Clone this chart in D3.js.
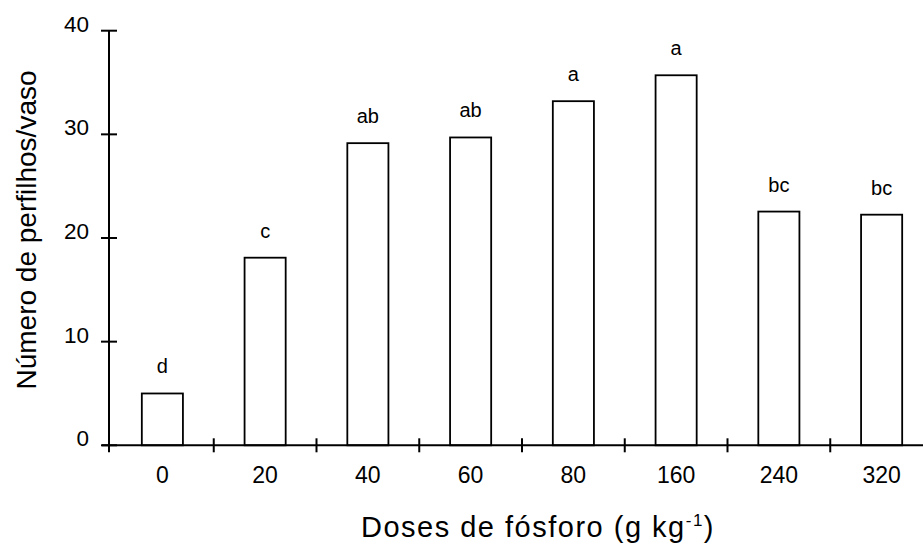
<!DOCTYPE html>
<html>
<head>
<meta charset="utf-8">
<script src="https://cdn.jsdelivr.net/npm/d3@7"></script>
<style>
  html, body { margin: 0; padding: 0; background: #fff; }
  svg { display: block; font-family: "Liberation Sans", Arial, sans-serif; }
</style>
</head>
<body>
<svg id="chart" width="923" height="544"></svg>
<script>
// Phosphorus doses (g kg-1) and tillers per pot
const doses = ["0", "20", "40", "60", "80", "160", "240", "320"];
const tillers = [5.0, 18.1, 29.15, 29.7, 33.2, 35.7, 22.55, 22.25];
const groups = ["d", "c", "ab", "ab", "a", "a", "bc", "bc"];
const yTicks = [0, 10, 20, 30, 40];

const svg = d3.select("#chart");

const x = d3.scaleBand()
  .domain(doses)
  .range([111, 933])
  .paddingInner(0.6)
  .paddingOuter(0.3);

const y = d3.scaleLinear().domain([0, 40]).range([445.3, 30.7]);

const axisX = 109;
const ink = "#000";

// bars
svg.append("g")
  .selectAll("rect")
  .data(doses)
  .join("rect")
  .attr("x", d => x(d))
  .attr("y", (d, i) => y(tillers[i]))
  .attr("width", x.bandwidth())
  .attr("height", (d, i) => y(0) - y(tillers[i]))
  .attr("fill", "#fff")
  .attr("stroke", ink)
  .attr("stroke-width", 1.8);

// significance letters above bars
svg.append("g")
  .selectAll("text")
  .data(doses)
  .join("text")
  .attr("x", d => x(d) + x.bandwidth() / 2)
  .attr("y", (d, i) => y(tillers[i]) - 20)
  .attr("text-anchor", "middle")
  .attr("font-size", 20)
  .attr("fill", ink)
  .text((d, i) => groups[i]);

// y axis line with crossing ticks
const gy = svg.append("g");
gy.append("line")
  .attr("x1", axisX).attr("x2", axisX)
  .attr("y1", y(40)).attr("y2", y(0) + 7)
  .attr("stroke", ink).attr("stroke-width", 2);
gy.selectAll("line.tick")
  .data(yTicks)
  .join("line")
  .attr("class", "tick")
  .attr("x1", axisX - 8).attr("x2", axisX + 8)
  .attr("y1", d => y(d)).attr("y2", d => y(d))
  .attr("stroke", ink).attr("stroke-width", 2);
gy.selectAll("text")
  .data(yTicks)
  .join("text")
  .attr("x", 89)
  .attr("y", d => y(d) - 7)
  .attr("dy", "0.35em")
  .attr("text-anchor", "end")
  .attr("font-size", 22.5)
  .attr("fill", ink)
  .text(d => d);

// x axis line with crossing ticks at band edges
const edges = d3.range(doses.length + 1).map(i => 111 + i * x.step());
const gx = svg.append("g");
gx.append("line")
  .attr("x1", axisX - 7).attr("x2", 923)
  .attr("y1", y(0)).attr("y2", y(0))
  .attr("stroke", ink).attr("stroke-width", 2);
gx.selectAll("line.tick")
  .data(edges.slice(1))
  .join("line")
  .attr("class", "tick")
  .attr("x1", d => d).attr("x2", d => d)
  .attr("y1", y(0) - 7).attr("y2", y(0) + 7)
  .attr("stroke", ink).attr("stroke-width", 2);
gx.selectAll("text")
  .data(doses)
  .join("text")
  .attr("x", d => x(d) + x.bandwidth() / 2)
  .attr("y", 483)
  .attr("text-anchor", "middle")
  .attr("font-size", 23)
  .attr("fill", ink)
  .text(d => d);

// axis titles
const xt = svg.append("text")
  .attr("x", 538)
  .attr("y", 537)
  .attr("text-anchor", "middle")
  .attr("font-size", 29)
  .attr("letter-spacing", 1.5)
  .attr("fill", ink);
xt.append("tspan").text("Doses de fósforo (g kg");
xt.append("tspan").attr("font-size", 17).attr("dy", -11).text("-1");
xt.append("tspan").attr("dy", 11).text(")");

svg.append("text")
  .attr("transform", "translate(36,230) rotate(-90)")
  .attr("text-anchor", "middle")
  .attr("font-size", 28)
  .attr("fill", ink)
  .text("Número de perfilhos/vaso");
</script>
</body>
</html>
